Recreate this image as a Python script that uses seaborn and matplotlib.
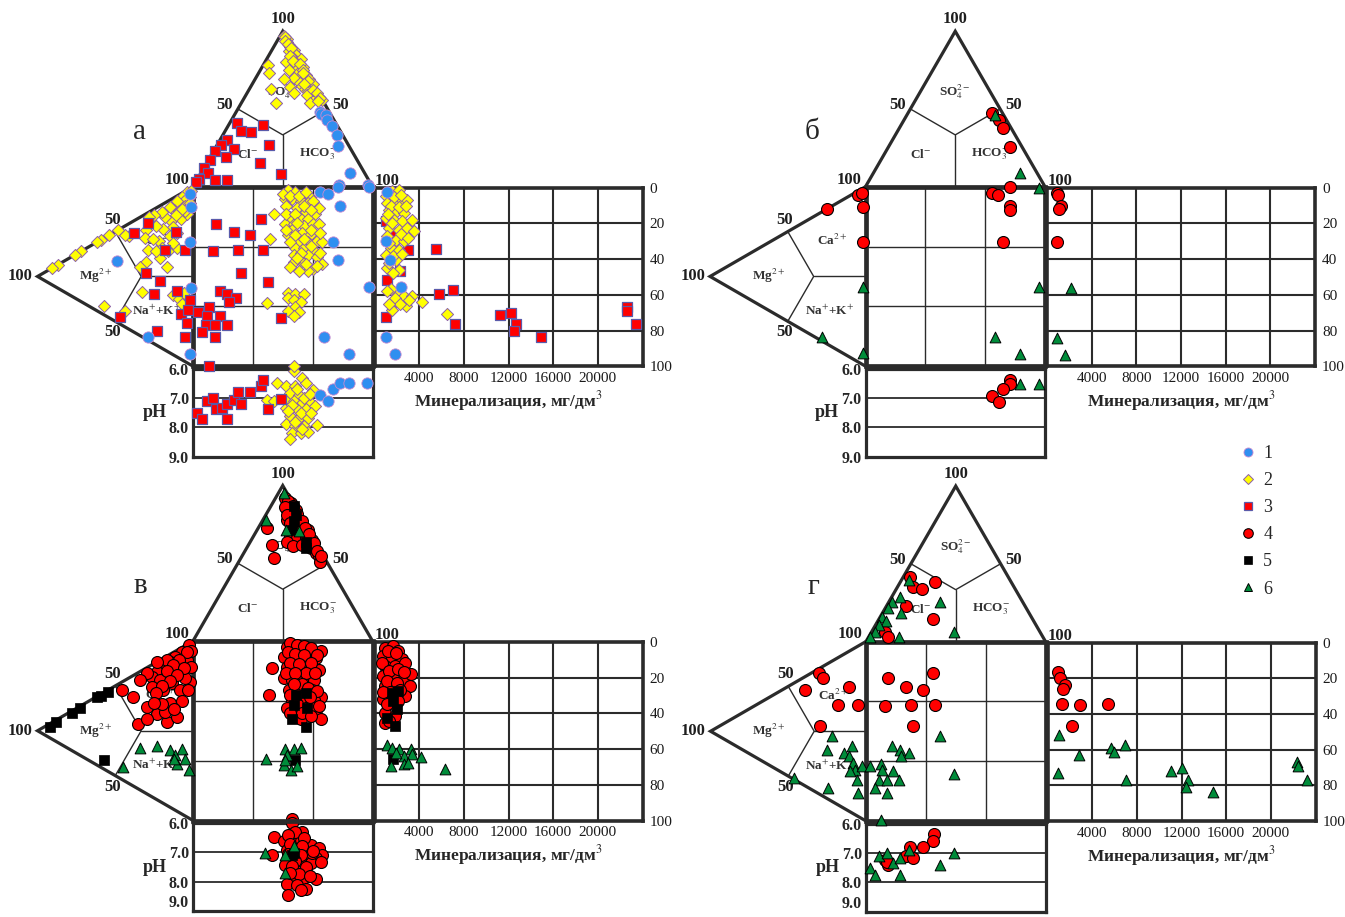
import numpy as np
import seaborn as sns
import matplotlib.pyplot as plt
from matplotlib.lines import Line2D

# anion triangle points: (SO4 %, HCO3 %), Cl is the rest
# cation triangle points: (Mg %, Na+K %), Ca is the rest
# square: (x %, Na+K %); TDS box: (mg/dm3, Na+K %); pH strip: (x %, pH)

# ---- panel а ----
A_TOP_1 = [(48, 47), (47, 48), (46, 51), (43, 53), (39, 58), (33, 64), (26, 68), (9, 83), (1, 81), (1, 97)]
A_TOP_2 = [(97, 2), (95, 5), (93, 6), (91, 8), (90, 9), (88, 12), (87, 10), (86, 13), (85, 15), (83, 14),
           (82, 19), (80, 12), (80, 17), (78, 18), (78, 3), (77, 23), (76, 20), (75, 16), (74, 22), (73, 6),
           (72, 27), (71, 25), (70, 21), (69, 30), (69, 16), (67, 26), (66, 34), (65, 28), (64, 22), (63, 12),
           (63, 31), (62, 33), (61, 37), (60, 26), (59, 34), (58, 41), (57, 40), (56, 44), (54, 19), (54, 38),
           (96, 3), (94, 4), (92, 7), (89, 10), (84, 12), (81, 15), (79, 20), (75, 24), (73, 25), (68, 30),
           (66, 29), (62, 36), (60, 39), (57, 42), (55, 42)]
A_TOP_3 = [(41, 4), (36, 9), (35, 15), (40, 19), (27, 29), (15, 30), (8, 45), (30, 4), (27, 2), (24, 11),
           (23, 1), (19, 9), (17, 1), (12, 0), (9, 4), (5, 1), (4, 10), (4, 17), (3, 0)]
A_LEFT_1 = [(2, 3), (1, 11), (2, 30), (49, 17), (1, 56), (29, 69), (2, 92)]
A_LEFT_2 = [(3, 3), (4, 1), (7, 2), (2, 5), (6, 5), (10, 3), (5, 8), (12, 7), (15, 4), (9, 9), (8, 14),
            (14, 12), (18, 8), (4, 13), (20, 4), (25, 3), (28, 3), (30, 9), (41, 7), (44, 5), (31, 13),
            (22, 19), (15, 20), (10, 21), (29, 21), (16, 28), (10, 29), (21, 29), (30, 27), (17, 36), (34, 28),
            (48, 0), (54, 0), (59, 0), (62, 0), (72, 0), (76, 0), (87, 0), (91, 0), (13, 54), (9, 58), (6, 56),
            (7, 62), (33, 42), (57, 38), (44, 47), (1, 2), (2, 8), (5, 11), (7, 9), (11, 10), (13, 16),
            (19, 14), (24, 10), (26, 16), (20, 24), (13, 25), (24, 24)]
A_LEFT_3 = [(29, 6), (38, 7), (11, 20), (18, 26), (5, 33), (30, 33), (21, 42), (25, 47), (10, 53), (2, 62),
            (8, 67), (3, 67), (4, 74), (5, 81), (23, 69), (47, 49)]
A_SQ_1 = [(71, 3), (75, 4), (81, 0), (98, 0), (82, 11), (78, 31), (81, 41), (98, 56), (73, 84), (87, 93)]
A_SQ_2 = [(53, 2), (57, 3), (62, 4), (65, 6), (51, 7), (55, 7), (60, 8), (64, 9), (68, 11), (52, 11),
          (58, 12), (63, 14), (68, 15), (54, 17), (60, 18), (64, 18), (51, 21), (56, 21), (62, 22), (67, 21),
          (70, 21), (55, 24), (61, 26), (65, 27), (53, 27), (59, 30), (64, 31), (69, 30), (72, 31), (57, 34),
          (62, 34), (67, 35), (56, 38), (64, 38), (69, 39), (61, 42), (56, 42), (72, 43), (67, 46), (64, 47),
          (59, 47), (45, 15), (43, 29), (53, 59), (57, 60), (62, 60), (53, 62), (56, 63), (60, 64), (57, 67),
          (53, 69), (59, 70), (56, 72), (41, 65), (56, 100), (50, 4), (54, 5), (59, 5), (63, 3), (67, 8),
          (70, 12), (52, 15), (57, 15), (62, 11), (66, 13), (58, 20), (66, 24), (71, 26), (52, 24), (57, 27),
          (62, 29), (54, 31), (66, 33), (60, 37), (71, 37), (58, 40), (63, 43), (69, 44), (54, 45)]
A_SQ_3 = [(13, 21), (23, 25), (32, 27), (38, 18), (11, 36), (25, 35), (39, 35), (27, 48), (42, 53), (15, 58),
          (19, 60), (24, 62), (20, 64), (9, 67), (3, 70), (8, 72), (15, 72), (7, 77), (12, 77), (19, 77),
          (5, 81), (12, 84), (49, 73), (9, 100)]
A_TDS_1 = [(1150, 2.6), (1070, 30), (1360, 40.7), (2340, 55.6), (1070, 83.6), (1810, 92.9)]
A_TDS_2 = [(1010, 4.9), (1600, 2), (2190, 1.1), (1150, 8.6), (1900, 7.6), (2490, 6.7), (2930, 6.7),
           (1300, 12.3), (2050, 13.2), (2640, 14.2), (1010, 16.9), (1750, 17.9), (2490, 18.8), (3380, 17.9),
           (1300, 22.6), (2190, 23.5), (2930, 22.6), (3530, 24.4), (1150, 27.2), (1900, 29.1), (2640, 30),
           (1450, 33.8), (2190, 34.7), (1010, 37.5), (1900, 40.3), (1150, 44.9), (2190, 45.9), (1450, 57),
           (2050, 59.9), (2640, 60.8), (3380, 60.8), (1900, 63.6), (2790, 66.4), (1600, 68.3), (4270, 64.2),
           (6490, 70.5), (1300, 3), (1750, 5), (2400, 4), (1500, 10), (2200, 11), (2800, 10), (1200, 15),
           (1600, 20), (2400, 26), (3000, 28), (1300, 31), (1700, 38), (2500, 37), (1300, 42), (1700, 48),
           (1100, 58), (1800, 62), (2300, 65), (3100, 63), (1300, 65)]
A_TDS_3 = [(1070, 18.7), (1510, 25.4), (2990, 35.1), (5510, 34.3), (2250, 46.8), (1160, 51.9), (2850, 63.6),
           (5810, 59.3), (6990, 57.1), (1070, 72.4), (7170, 76.3), (11230, 71.1), (12180, 70.1),
           (12710, 76.3), (12510, 80.4), (14880, 83.6), (22580, 66.8), (22580, 69.2), (23380, 76.3)]
A_PH_1 = [(71, 6.91), (75, 7.1), (78, 6.69), (82, 6.48), (87, 6.48), (97, 6.48)]
A_PH_2 = [(56, 6.08), (61, 6.31), (47, 6.48), (52, 6.59), (57, 6.59), (63, 6.48), (67, 6.71), (54, 6.82),
          (59, 6.88), (64, 6.94), (51, 7.05), (56, 7.1), (61, 7.16), (66, 7.16), (52, 7.33), (58, 7.39),
          (63, 7.39), (68, 7.28), (54, 7.62), (59, 7.67), (64, 7.67), (52, 7.9), (57, 7.95), (62, 7.95),
          (69, 7.93), (55, 8.19), (60, 8.19), (54, 8.41), (64, 8.16), (41, 7.05), (45, 7.1), (58, 6.7),
          (62, 7.0), (55, 7.25), (60, 7.5), (66, 7.5), (57, 7.8), (61, 8.05), (53, 7.45), (65, 6.85)]
A_PH_3 = [(2, 7.5), (5, 7.7), (8, 7.1), (11, 6.99), (13, 7.39), (16, 7.33), (19, 7.22), (19, 7.7), (23, 7.05),
          (25, 6.8), (27, 7.22), (32, 6.8), (38, 6.6), (39, 6.4), (42, 7.39), (49, 7.03)]

# ---- panel б ----
B_TOP_4 = [(47.5, 46.6), (42.8, 52.7), (37.5, 57.8), (25.7, 67.7)]
B_TOP_6 = [(46, 49), (8.6, 81.8)]
B_LEFT_4 = [(5, 2), (2.5, 2), (25, 0), (1.5, 10.5), (1.5, 30)]
B_LEFT_6 = [(1.5, 55), (28, 70), (1.5, 92)]
B_SQ_4 = [(70.4, 3.3), (74, 4.6), (80.6, 0.3), (80.6, 11), (80.6, 13), (76.5, 31)]
B_SQ_6 = [(72, 84), (86, 93), (96.7, 56), (96.7, 0.5)]
B_TDS_4 = [(890, 2.8), (950, 4), (1270, 10.3), (1070, 12.2), (890, 30.6)]
B_TDS_6 = [(2160, 56.3), (890, 84.4), (1630, 93.8)]
B_PH_4 = [(80.6, 6.39), (80.6, 6.53), (76.5, 6.7), (70.4, 6.93), (74.1, 7.13)]
B_PH_6 = [(86.1, 6.53), (96.7, 6.53)]

# ---- panel в ----
C_TOP_4 = [(92, 5.5), (89, 10), (84.5, 10), (84.5, 15), (80, 15), (79, 19), (78, 13.5), (75, 19), (75, 23.5),
           (70.5, 25), (71.6, 28), (68, 20), (66, 25), (66, 30), (65, 34), (64, 20.5), (61, 25), (62, 30),
           (60, 35.6), (56.6, 40), (54.4, 43), (51, 45.5), (72.7, 5), (62, 13), (53.4, 18.7), (90, 8),
           (87, 12), (82, 17), (77, 22), (73, 26), (69, 30), (63, 36), (58, 40), (55, 44), (86, 8), (81, 12),
           (76, 16)]
C_TOP_5 = [(86.6, 13), (81.3, 16.6), (77, 17.7), (71.6, 19.5), (64, 30.7), (59.8, 32.8)]
C_TOP_6 = [(95, 3), (78, 1.4), (71.6, 15.8), (70.5, 23.8)]
C_LEFT_4 = [(2.8, 0.8), (7.1, 2.4), (11.4, 3.1), (14.6, 4.3), (19, 4.9), (23.2, 5.6), (26.5, 6.7), (3.9, 8.7),
            (8.2, 9.3), (12.5, 10), (16.8, 10.6), (21.1, 11.3), (16.8, 2.2), (23.2, 0), (29.7, 3.2), (34, 4.8),
            (26.5, 12.3), (19, 17.9), (13.5, 16.9), (8.2, 23.3), (45.8, 4.5), (38.3, 12), (29.7, 21.9),
            (23.2, 28.8), (16.8, 36.7), (10.3, 37.2), (14.6, 27.5), (35.1, 28.5), (29.7, 28.4), (17.9, 30.6),
            (1.5, 5), (1.5, 14), (2, 22), (5, 18), (4, 4), (9, 6), (13, 7), (17, 8), (6, 12), (10, 14),
            (15, 15), (20, 15), (24, 17), (3, 26), (7, 30), (12, 32), (20, 25), (25, 22)]
C_LEFT_5 = [(92, 2), (88, 1), (78, 1), (73, 1), (62, 0), (59, 1), (54.5, 1), (57, 38)]
C_LEFT_6 = [(44.8, 47.8), (34, 42.4), (23.2, 47.1), (14.6, 53.6), (11.4, 58), (7.1, 56.4), (10.3, 63.2),
            (5, 63), (2.8, 70.7), (12.5, 59.3)]
C_SQ_4 = [(52.5, 3.2), (56.2, 4.1), (59.9, 6), (63.7, 6.9), (71.1, 5.4), (50.6, 8.7), (55.3, 9.7), (59.9, 10.6),
          (64.6, 10.6), (68.3, 9.7), (52.5, 14.3), (57.2, 15.3), (61.8, 15.3), (66.5, 15.3), (70.2, 16.2),
          (50.6, 20.8), (55.3, 21.8), (59.9, 20.8), (63.7, 21.8), (67.4, 21.8), (53.4, 27.4), (58.1, 26.4),
          (66.5, 27.4), (71.1, 31.1), (55.3, 33), (59.9, 32), (67.4, 33), (52.5, 37.6), (58.1, 38.5),
          (62.7, 37.6), (68.3, 38.5), (71.1, 43.2), (56.2, 42.3), (59.9, 43.2), (44.1, 15.3), (42.3, 30.2),
          (65.5, 36.7), (54, 1), (58, 2), (62, 3), (66, 4), (69, 8), (53, 6), (57, 7), (62, 8), (66, 12),
          (54, 12), (59, 13), (63, 18), (68, 18), (52, 18), (57, 18), (61, 24), (56, 24), (64, 26), (69, 28),
          (54, 30), (65, 31), (58, 35), (61, 40), (66, 42), (54, 40), (70, 36)]
C_SQ_5 = [(57.2, 30.2), (62.7, 29.2), (63.7, 37.6), (56.2, 35.7), (55.3, 43.2), (62.7, 47.9), (56.7, 66.5)]
C_SQ_6 = [(40.4, 65.5), (51.5, 59.9), (56.2, 59.9), (59.9, 59.4), (52.5, 63.7), (50.6, 69.3), (54.4, 72.1),
          (58.1, 69.8), (51.5, 66.5)]
C_TDS_4 = [(925, 3.2), (1674, 2.2), (2122, 5), (777, 7.8), (1525, 8.8), (2422, 9.7), (925, 13.4), (1824, 13.4),
           (2721, 11.5), (777, 19.1), (1674, 20), (2571, 21.9), (3259, 18.1), (3170, 24.5), (925, 24.5),
           (1824, 26.5), (2721, 30.3), (777, 32.1), (1674, 35), (925, 39.6), (1824, 41.5), (925, 45.2),
           (1200, 5), (1900, 6), (700, 12), (1300, 16), (2100, 15), (1100, 22), (2000, 23), (1400, 28),
           (2300, 27), (1100, 35), (2100, 33), (1300, 44), (800, 28), (2600, 17)]
C_TDS_5 = [(1525, 28.4), (2122, 27.5), (1674, 33.1), (1973, 37.8), (1076, 42.4), (1824, 47.1), (1674, 65.8)]
C_TDS_6 = [(1076, 57.9), (1584, 59.2), (2182, 59.8), (3259, 60.2), (2661, 63.6), (3378, 63), (4156, 64.3),
           (1884, 62), (1435, 69.5), (2661, 68.6), (2960, 67.6), (6309, 71.3)]
C_PH_4 = [(55.3, 5.85), (55.3, 6.0), (60.9, 6.29), (45.1, 6.49), (50.6, 6.61), (56.2, 6.52), (59.9, 6.63),
          (65.5, 6.75), (70.2, 6.86), (72.1, 7.09), (52.5, 6.92), (58.1, 6.97), (63.7, 7.03), (68.3, 7.2),
          (54.4, 7.2), (59.9, 7.32), (65.5, 7.37), (51.5, 7.43), (57.1, 7.6), (62.7, 7.66), (56.2, 7.89),
          (60.9, 7.95), (52.5, 8.07), (68.3, 7.92), (62.7, 8.24), (52.8, 8.47), (44.1, 7.09), (66.5, 7.03),
          (71.1, 7.32), (57, 6.3), (53, 6.4), (62, 6.5), (54, 6.7), (61, 6.8), (67, 6.95), (53, 7.05),
          (60, 7.1), (57, 7.3), (63, 7.5), (55, 7.45), (59, 7.75), (65, 7.8), (54, 7.7), (58, 8.1), (60, 8.3)]
C_PH_5 = [(55.3, 7.09), (56.2, 7.03)]
C_PH_6 = [(40.3, 7.03), (56.2, 6.8), (51.5, 7.09), (51.5, 7.72)]

# ---- panel г ----
D_TOP_4 = [(41.2, 3.8), (35.2, 8.7), (33.5, 14.7), (38.4, 19.1), (22.8, 10.8), (14.2, 30.3), (6.3, 7.4), (3.1, 10.8)]
D_TOP_6 = [(39.4, 4.4), (28.7, 4.5), (25.5, 2), (21.3, 1.7), (18.5, 10), (25.5, 28.4), (15.9, 0.7), (13.3, 4.4),
           (10.6, 2.1), (6.3, 1.9), (2.7, 0.9), (3.1, 17), (6.3, 45.8)]
D_LEFT_4 = [(30, 2.3), (27.8, 6.5), (39.1, 7.4), (10.7, 20.1), (17.8, 26.4), (4.9, 32.8), (29.5, 32.6)]
D_LEFT_6 = [(22, 41.9), (24.8, 47.9), (9.2, 53.5), (14.1, 55.1), (10.7, 58.7), (8.5, 63.4), (7.1, 67.8),
            (2.8, 67.8), (10.3, 67.2), (6, 73.9), (4.9, 81.9), (24.2, 69.5), (46.2, 53)]
D_SQ_4 = [(12.4, 20.5), (22.2, 25.2), (31.9, 27), (37.4, 17.8), (10.6, 35.8), (24.8, 35.3), (38.3, 35.3), (26.3, 47.3)]
D_SQ_6 = [(2.2, 69.2), (8.1, 68.1), (8.7, 71.4), (14.3, 58.1), (19, 60.3), (24.1, 62.1), (19.3, 64), (41.5, 52.9),
          (14.8, 72.3), (7, 77.3), (11.5, 77.3), (18.5, 77.3), (5.2, 81.6), (11.9, 84.3), (49, 73.6), (8.1, 99.5)]
D_TDS_4 = [(978, 16.5), (1126, 19.9), (1571, 24), (1423, 25.9), (1274, 34.3), (2904, 34.9), (5423, 34.3), (2219, 46.9)]
D_TDS_6 = [(1034, 52.1), (2815, 63), (5660, 59.3), (5957, 61.2), (6905, 57.4), (915, 73.2), (7053, 76.9),
           (11054, 71.8), (12003, 70.5), (12595, 76.9), (12388, 80.7), (14847, 84), (22374, 67.2),
           (22463, 69.1), (23263, 76.9)]
D_PH_4 = [(37.8, 6.37), (37.4, 6.6), (31.9, 6.79), (24.4, 6.79), (22.2, 7.1), (26.3, 7.19), (10.6, 7.25),
          (12.4, 7.4), (11.5, 7.32)]
D_PH_6 = [(2.2, 7.51), (5, 7.74), (7.4, 7.1), (11.5, 7.02), (14.8, 7.36), (18.9, 7.19), (24.1, 6.9),
          (18.9, 7.74), (41.5, 7.43), (48.9, 7.0)]

TDS_TICKS = [4000, 8000, 12000, 16000, 20000]
NAK_TICKS = [0, 20, 40, 60, 80, 100]
PH_TICKS = [6, 7, 8, 9]
LEGEND_LABELS = ['1', '2', '3', '4', '5', '6']

# ---------------- drawing ----------------
sns.set_style('white')
plt.rcParams['font.family'] = ['Liberation Serif', 'DejaVu Serif']
plt.rcParams['mathtext.fontset'] = 'stix'

W, H = 1345, 917
K = 1.795  # pixels per percent in the square
LC = '#2b2b2b'
R3 = np.sqrt(3) / 2

STYLES = {
    1: dict(marker='o', color='#2f8ff0', edgecolor='#c88ad0', linewidth=0.6, s=66),
    2: dict(marker='D', color='#ffff00', edgecolor='#8c5fa8', linewidth=0.7, s=38),
    3: dict(marker='s', color='#ff0000', edgecolor='#5a5aaa', linewidth=0.9, s=56),
    4: dict(marker='o', color='#ff0000', edgecolor='black', linewidth=0.8, s=74),
    5: dict(marker='s', color='black', edgecolor='black', linewidth=0.5, s=56),
    6: dict(marker='^', color='#008c3a', edgecolor='black', linewidth=0.7, s=60),
}


def frac(left, top, width, height):
    return [left / W, 1 - (top + height) / H, width / W, height / H]


def top_xy(pts):
    a = np.array(pts, float)
    return 0.5 * a[:, 0] + a[:, 1], -R3 * a[:, 0]


def left_xy(pts):
    a = np.array(pts, float)
    return -R3 * a[:, 0], 0.5 * a[:, 0] + a[:, 1]


def cols(pts):
    a = np.array(pts, float)
    return a[:, 0], a[:, 1]


def dots(ax, xy, kind):
    x, y = xy
    sns.scatterplot(x=x, y=y, ax=ax, legend=False, zorder=4, clip_on=False, **STYLES[kind])


def panel(fig, x0, y0, letter, top, left, sq, tds, ph):
    side = 100 * K

    # mineralisation box
    ax = fig.add_axes(frac(x0 + side + 2, y0 + 1, 268, side - 1))
    for kind, pts in tds:
        dots(ax, cols(pts), kind)
    ax.set_xlim(0, 24000)
    ax.set_ylim(100, 0)
    ax.set_xticks(TDS_TICKS)
    ax.set_yticks(NAK_TICKS)
    ax.yaxis.tick_right()
    ax.tick_params(length=0, labelsize=11, colors='#1a1a1a')
    ax.tick_params(axis='y', pad=5)
    ax.tick_params(axis='x', pad=4)
    ax.grid(True, color=LC, lw=1.5)
    for sp in ax.spines.values():
        sp.set_linewidth(2.6)
        sp.set_color(LC)
    ax.set_ylabel('')
    ax.set_xlabel('Минерализация, мг/дм$^3$', fontsize=12.5, fontweight='bold', labelpad=3)

    # pH strip
    ax = fig.add_axes(frac(x0, y0 + side + 2.5, side, 88))
    for kind, pts in ph:
        dots(ax, cols(pts), kind)
    ax.set_xlim(0, 100)
    ax.set_ylim(9, 6)
    ax.set_xticks([])
    ax.set_yticks(PH_TICKS)
    ax.set_yticklabels([f'{v:.1f}' for v in PH_TICKS], fontweight='bold')
    ax.tick_params(length=0, labelsize=11.5, pad=3)
    if y0 > 500:
        # the lowest label sits at the bottom edge of the figure
        ax.get_yticklabels()[-1].set_verticalalignment('bottom')
    ax.grid(True, axis='y', color=LC, lw=1.3)
    for sp in ax.spines.values():
        sp.set_linewidth(2.3)
        sp.set_color(LC)
    ax.set_xlabel('')
    ax.set_ylabel('')
    ax.text(-0.215, 0.5, 'pH', transform=ax.transAxes, fontsize=13, fontweight='bold',
            ha='center', va='center')

    # triangles and square
    ax = fig.add_axes(frac(x0 - side, y0 - side, 2.1 * side, 2.1 * side))
    ax.set_xlim(-100, 110)
    ax.set_ylim(110, -100)
    ax.set_axis_off()
    ln = dict(color=LC, solid_joinstyle='miter', zorder=2)
    ax.plot([0, 50, 100], [0, -100 * R3, 0], lw=2.3, **ln)
    ax.plot([0, -100 * R3, 0], [0, 50, 100], lw=2.3, **ln)
    ax.plot([0, 100, 100, 0, 0], [0, 0, 100, 100, 0], lw=3.4, **ln)
    thin = dict(color=LC, lw=1.0, zorder=2)
    c = 100 * R3 / 3
    ax.plot([25, 50, 75], [-50 * R3, -c, -50 * R3], **thin)
    ax.plot([50, 50], [-c, 0], **thin)
    ax.plot([-50 * R3, -c, -50 * R3], [25, 50, 75], **thin)
    ax.plot([-c, 0], [50, 50], **thin)
    for g in (100 / 3, 200 / 3):
        ax.plot([g, g], [0, 100], **thin)
        ax.plot([0, 100], [g, g], **thin)

    for kind, pts in top:
        dots(ax, top_xy(pts), kind)
    for kind, pts in left:
        dots(ax, left_xy(pts), kind)
    for kind, pts in sq:
        dots(ax, cols(pts), kind)

    num = dict(fontsize=12, fontweight='bold', ha='center', va='center',
               textcoords='offset pixels', color='#1e1e1e')
    ax.annotate('100', (50, -100 * R3), xytext=(0, 12), **num)
    ax.annotate('100', (0, 0), xytext=(-16, 7), **num)
    ax.annotate('100', (100, 0), xytext=(15, 6), **num)
    ax.annotate('100', (-100 * R3, 50), xytext=(-17, 0), **num)
    ax.annotate('50', (25, -50 * R3), xytext=(-13, 4), **num)
    ax.annotate('50', (75, -50 * R3), xytext=(13, 4), **num)
    ax.annotate('50', (-50 * R3, 25), xytext=(-3, 12), **num)
    ax.annotate('50', (-50 * R3, 75), xytext=(-3, -11), **num)

    ion = dict(fontsize=9.5, fontweight='bold', ha='center', va='center', color='#333333', zorder=3)
    ax.text(50, -53, 'SO$_4^{2-}$', **ion)
    ax.text(30.5, -18, 'Cl$^{-}$', **ion)
    ax.text(69.5, -18, 'HCO$_3^{-}$', **ion)
    ax.text(-54, 50, 'Mg$^{2+}$', **ion)
    ax.text(-18.5, 30, 'Ca$^{2+}$', **ion)
    ax.text(-20, 69, 'Na$^{+}$+K$^{+}$', **ion)

    fig.text((x0 - 53) / W, 1 - (y0 - 55) / H, letter, fontsize=21, ha='center', va='center')


fig = plt.figure(figsize=(13.45, 9.17), dpi=100)

panel(fig, 193, 186.7, 'а',
      top=[(2, A_TOP_2), (3, A_TOP_3), (1, A_TOP_1)],
      left=[(2, A_LEFT_2), (3, A_LEFT_3), (1, A_LEFT_1)],
      sq=[(2, A_SQ_2), (3, A_SQ_3), (1, A_SQ_1)],
      tds=[(3, A_TDS_3), (2, A_TDS_2), (1, A_TDS_1)],
      ph=[(2, A_PH_2), (3, A_PH_3), (1, A_PH_1)])
panel(fig, 865.5, 186.7, 'б',
      top=[(4, B_TOP_4), (6, B_TOP_6)], left=[(4, B_LEFT_4), (6, B_LEFT_6)],
      sq=[(4, B_SQ_4), (6, B_SQ_6)], tds=[(4, B_TDS_4), (6, B_TDS_6)], ph=[(4, B_PH_4), (6, B_PH_6)])
panel(fig, 193, 641, 'в',
      top=[(4, C_TOP_4), (5, C_TOP_5), (6, C_TOP_6)], left=[(4, C_LEFT_4), (5, C_LEFT_5), (6, C_LEFT_6)],
      sq=[(4, C_SQ_4), (5, C_SQ_5), (6, C_SQ_6)], tds=[(4, C_TDS_4), (5, C_TDS_5), (6, C_TDS_6)],
      ph=[(4, C_PH_4), (5, C_PH_5), (6, C_PH_6)])
panel(fig, 866, 641.5, 'г',
      top=[(4, D_TOP_4), (6, D_TOP_6)], left=[(4, D_LEFT_4), (6, D_LEFT_6)],
      sq=[(4, D_SQ_4), (6, D_SQ_6)], tds=[(4, D_TDS_4), (6, D_TDS_6)], ph=[(4, D_PH_4), (6, D_PH_6)])

handles = []
for k in range(1, 7):
    st = STYLES[k]
    handles.append(Line2D([], [], ls='none', marker=st['marker'], markersize=np.sqrt(st['s']) * 0.8,
                          markerfacecolor=st['color'], markeredgecolor=st['edgecolor'],
                          markeredgewidth=st['linewidth']))
fig.legend(handles, LEGEND_LABELS, loc='upper left', bbox_to_anchor=(1239 / W, 1 - 445 / H),
           frameon=False, fontsize=13, handlelength=1.0, handletextpad=0.35, labelspacing=0.56,
           borderpad=0, borderaxespad=0)

fig.savefig('out.png', dpi=100)
